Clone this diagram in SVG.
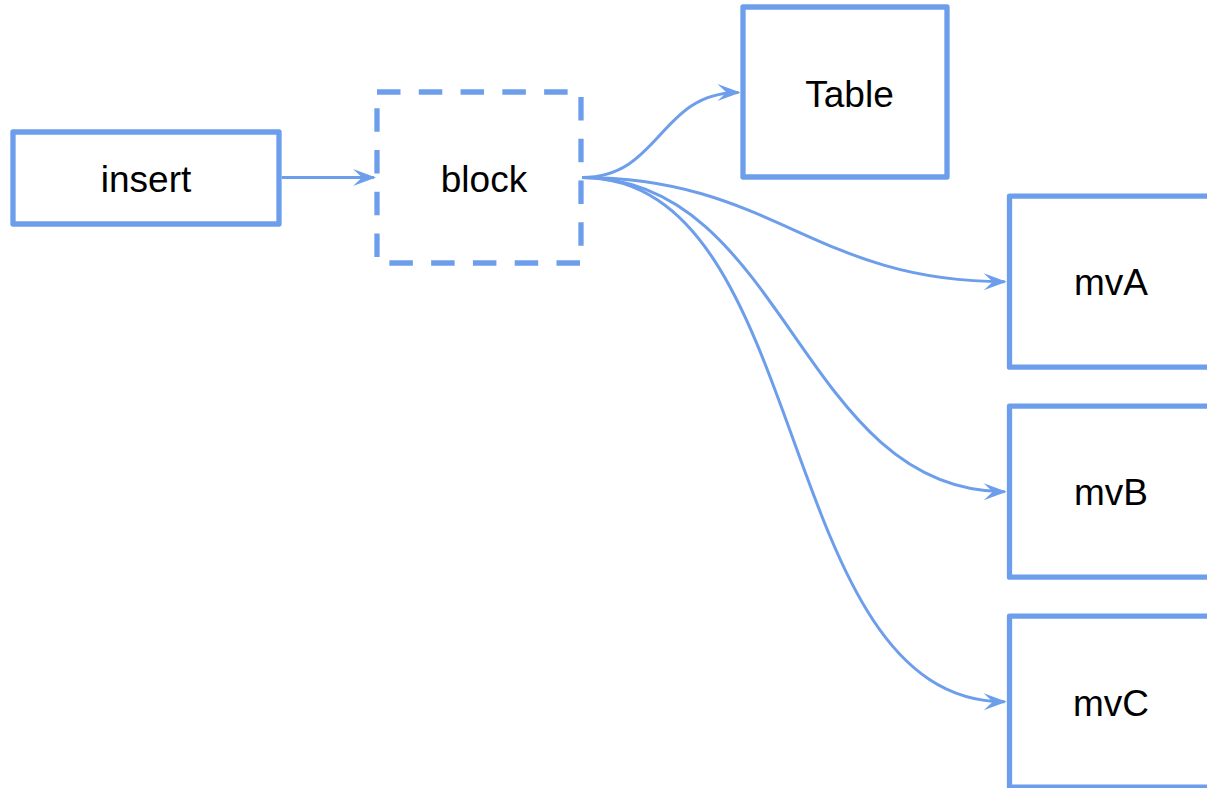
<svg xmlns="http://www.w3.org/2000/svg" width="1207" height="788" viewBox="0 0 1207 788">
  <style>
    .box { fill: #ffffff; stroke: #6d9eeb; stroke-width: 5.3; stroke-linejoin: round; }
    .dashed { stroke-dasharray: 23.5 18.28; stroke-linejoin: miter; }
    .lbl { font-family: "Liberation Sans", Arial, sans-serif; font-size: 37px; fill: #000000; text-anchor: middle; }
    .edge { fill: none; stroke: #6d9eeb; stroke-width: 3; }
  </style>
  <defs>
    <marker id="arrow" markerUnits="userSpaceOnUse" orient="auto" markerWidth="30" markerHeight="22" viewBox="-25 -11 30 22" refX="0" refY="0" overflow="visible">
      <path d="M2,0 L-21,-8.5 L-12,0 L-21,8.5 Z" fill="#6d9eeb"/>
    </marker>
  </defs>
  <rect width="1207" height="788" fill="#ffffff"/>

  <g id="connectors">
    <path class="edge" d="M281.7,177.5 L374,177.5" marker-end="url(#arrow)"/>
    <path class="edge" d="M582,177.5 C661,177.5 659,92.5 738.5,92.5" marker-end="url(#arrow)"/>
    <path class="edge" d="M582,177.5 C773,177.5 813,281.7 1004.7,281.7" marker-end="url(#arrow)"/>
    <path class="edge" d="M582,177.5 C786,177.5 800.7,491.7 1004.7,491.7" marker-end="url(#arrow)"/>
    <path class="edge" d="M582,177.5 C815.5,177.5 771,701.7 1004.7,701.7" marker-end="url(#arrow)"/>
  </g>

  <g id="node-insert">
    <rect class="box" x="13" y="132" width="266" height="92"/>
    <text class="lbl" x="146" y="191.7">insert</text>
  </g>
  <g id="node-block">
    <rect class="box dashed" x="377" y="92" width="204" height="171"/>
    <text class="lbl" x="484" y="191.7">block</text>
  </g>
  <g id="node-table">
    <rect class="box" x="743" y="7" width="204" height="170"/>
    <text class="lbl" x="849.5" y="106.7">Table</text>
  </g>
  <g id="node-mvA">
    <rect class="box" x="1009.5" y="196.2" width="204" height="171"/>
    <text class="lbl" x="1111" y="295">mvA</text>
  </g>
  <g id="node-mvB">
    <rect class="box" x="1009.5" y="406.2" width="204" height="171"/>
    <text class="lbl" x="1111" y="505">mvB</text>
  </g>
  <g id="node-mvC">
    <rect class="box" x="1009.5" y="616.2" width="204" height="171"/>
    <text class="lbl" x="1111" y="716">mvC</text>
  </g>
</svg>
